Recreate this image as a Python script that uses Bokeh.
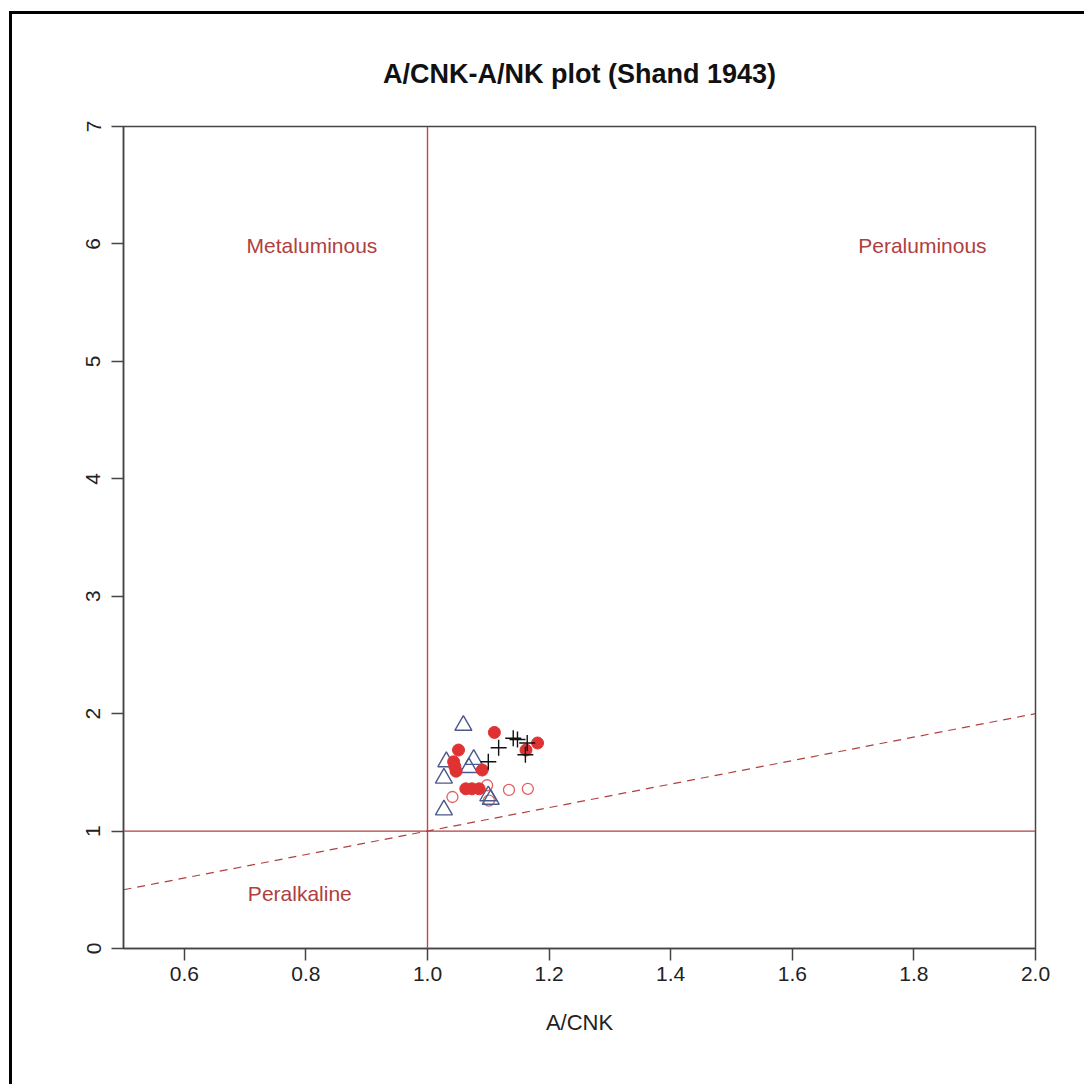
from bokeh.plotting import figure
from bokeh.models import Range1d, Span, FixedTicker, NumeralTickFormatter
from bokeh.core.properties import value
from bokeh.embed import file_html
from bokeh.resources import INLINE

# ---- data ----
tri_x = [1.059, 1.031, 1.027, 1.076, 1.068, 1.100, 1.104, 1.027]
tri_y = [1.90, 1.59, 1.45, 1.61, 1.54, 1.30, 1.27, 1.18]

dot_x = [1.110, 1.051, 1.043, 1.047, 1.090, 1.063, 1.073, 1.085, 1.181, 1.162, 1.045]
dot_y = [1.84, 1.69, 1.59, 1.51, 1.52, 1.36, 1.36, 1.36, 1.75, 1.69, 1.55]

plus_x = [1.117, 1.100, 1.141, 1.148, 1.164, 1.161]
plus_y = [1.71, 1.59, 1.79, 1.78, 1.75, 1.65]

circ_x = [1.041, 1.098, 1.134, 1.165, 1.101]
circ_y = [1.29, 1.39, 1.35, 1.36, 1.26]

line_x = [0.5, 2.0]
line_y = [0.5, 2.0]

region_names = ["Metaluminous", "Peraluminous", "Peralkaline"]
region_x = [0.81, 1.814, 0.79]
region_y = [5.99, 5.99, 0.47]

x_ticks = [0.6, 0.8, 1.0, 1.2, 1.4, 1.6, 1.8, 2.0]
y_ticks = [0, 1, 2, 3, 4, 5, 6, 7]

BROWN = "#b04040"
FONT = "Liberation Sans"

p = figure(
    width=1075, height=1073,
    frame_width=912, frame_height=822,
    min_border_left=111, min_border_top=112,
    min_border_right=52, min_border_bottom=139,
    x_range=Range1d(0.5, 2.0), y_range=Range1d(0, 7),
    output_backend="svg", toolbar_location=None,
    title="A/CNK-A/NK plot (Shand 1943)",
)
p.styles = {"border-left": "3px solid black", "border-top": "3px solid black",
            "margin-left": "9px", "margin-top": "11px"}

p.title.align = "center"
p.title.text_font = FONT
p.title.text_font_size = "27px"
p.title.text_font_style = "bold"
p.title.text_color = "#111111"
p.title.standoff = 76

p.grid.visible = False
p.outline_line_color = "#444444"
p.outline_line_width = 1.5
p.background_fill_color = "white"
p.border_fill_color = "white"

for ax in (p.xaxis[0], p.yaxis[0]):
    ax.axis_line_color = "#444444"
    ax.axis_line_width = 1.5
    ax.major_tick_line_color = "#444444"
    ax.major_tick_line_width = 1.5
    ax.major_tick_out = 12
    ax.major_tick_in = 0
    ax.minor_tick_line_color = None
    ax.major_label_text_font = FONT
    ax.major_label_text_font_size = "21px"
    ax.major_label_text_color = "#222222"

p.xaxis.ticker = FixedTicker(ticks=x_ticks)
p.xaxis.formatter = NumeralTickFormatter(format="0.0")
p.xaxis.major_label_standoff = 6
p.xaxis.axis_label = "A/CNK"
p.xaxis.axis_label_text_font = FONT
p.xaxis.axis_label_text_font_size = "22px"
p.xaxis.axis_label_text_font_style = "normal"
p.xaxis.axis_label_text_color = "#222222"
p.xaxis.axis_label_standoff = 26

p.yaxis.ticker = FixedTicker(ticks=y_ticks)
p.yaxis.major_label_orientation = "vertical"
p.yaxis.major_label_standoff = 11

# reference lines
p.add_layout(Span(location=1.0, dimension="height", line_color="#c04848", line_width=1.4))
p.add_layout(Span(location=1.0, dimension="width", line_color=BROWN, line_width=1.3))
p.line(line_x, line_y, line_color=BROWN, line_width=1.2, line_dash="8 6")

# region labels
p.text(region_x, region_y, text=region_names, text_color=BROWN,
       text_font=value(FONT), text_font_size="21px",
       text_align="center", text_baseline="middle")

# data
p.scatter(circ_x, circ_y, marker="circle", size=11, fill_color=None,
          line_color="#e06060", line_width=1.3)
p.scatter(tri_x, tri_y, marker="triangle", size=17, fill_color=None,
          line_color="#4a5a8c", line_width=1.4)
p.scatter(dot_x, dot_y, marker="circle", size=12, fill_color="#e03232",
          line_color="#e03232")
p.scatter(plus_x, plus_y, marker="cross", size=16, line_color="#111111",
          line_width=1.4)

open("out.html", "w").write(file_html(p, INLINE))
